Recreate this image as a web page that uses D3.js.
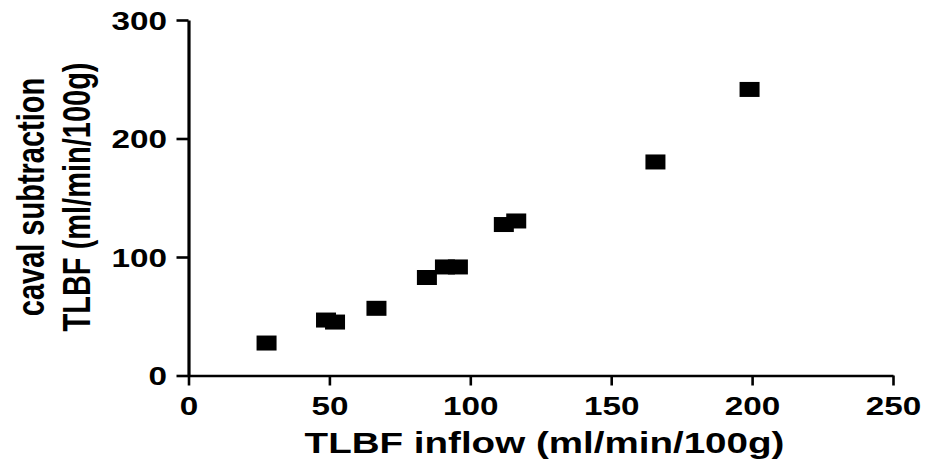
<!DOCTYPE html>
<html>
<head>
<meta charset="utf-8">
<script src="https://cdn.jsdelivr.net/npm/d3@7"></script>
<style>
  html, body { margin: 0; padding: 0; background: #fff; }
  svg { display: block; }
  text { font-family: "Liberation Sans", Arial, Helvetica, sans-serif; font-weight: bold; fill: #000; }
</style>
</head>
<body>
<svg id="chart" width="933" height="465"></svg>
<script>
// ---- data ----
const inflow = [27.7, 48.8, 52.0, 66.7, 84.6, 91.0, 95.6, 111.9, 116.3, 165.7, 199.1];
const cavalSubtraction = [27.4, 46.8, 45.1, 56.7, 82.7, 91.6, 91.6, 127.4, 130.4, 180.2, 241.4];
const xTicks = [0, 50, 100, 150, 200, 250];
const yTicks = [0, 100, 200, 300];
const xTitle = "TLBF inflow (ml/min/100g)";
const yTitleLines = ["caval subtraction", "TLBF (ml/min/100g)"];

// ---- layout ----
const W = 933, H = 465;
const x0 = 188.5, x1 = 893, yTop = 20, yBot = 375.5;
const sx = 1.33; // horizontal stretch of the original image

const svg = d3.select("#chart");
const x = d3.scaleLinear().domain([0, 250]).range([x0, x1]);
const y = d3.scaleLinear().domain([0, 300]).range([yBot, yTop]);

// x axis
const gx = svg.append("g").attr("transform", `translate(0,${yBot})`)
  .call(d3.axisBottom(x).tickValues(xTicks).tickSize(10).tickSizeOuter(0).tickFormat(d3.format("d")));
gx.select(".domain").attr("stroke", "#000").attr("stroke-width", 2.6);
gx.selectAll(".tick line").attr("stroke", "#000").attr("stroke-width", 2.6);
gx.selectAll(".tick text")
  .attr("y", null).attr("dy", null)
  .attr("text-anchor", "middle")
  .attr("font-size", 25)
  .attr("transform", `translate(0,${415 - yBot}) scale(${sx},1)`);

// y axis
const gy = svg.append("g").attr("transform", `translate(${x0},0)`)
  .call(d3.axisLeft(y).tickValues(yTicks).tickSize(12).tickSizeOuter(0).tickFormat(d3.format("d")));
gy.select(".domain").attr("stroke", "#000").attr("stroke-width", 3.2);
gy.selectAll(".tick line").attr("stroke", "#000").attr("stroke-width", 2.6);
gy.selectAll(".tick text")
  .attr("x", null).attr("dy", "0.36em")
  .attr("text-anchor", "end")
  .attr("font-size", 25)
  .attr("transform", `translate(${167 - x0},0) scale(${sx},1)`);

svg.selectAll("g.tick text").attr("fill", "#000");
svg.selectAll("g").attr("font-family", null);

// markers
const mw = 20, mh = 15;
svg.append("g").selectAll("rect")
  .data(inflow.map((v, i) => [v, cavalSubtraction[i]]))
  .join("rect")
  .attr("x", d => x(d[0]) - mw / 2)
  .attr("y", d => y(d[1]) - mh / 2)
  .attr("width", mw)
  .attr("height", mh)
  .attr("fill", "#000");

// x title
svg.append("text")
  .attr("transform", `translate(544.5,453) scale(${sx},1)`)
  .attr("text-anchor", "middle")
  .attr("font-size", 29)
  .text(xTitle);

// y title (two lines)
const yt = svg.append("g")
  .attr("transform", `translate(0,197) scale(${sx},1) rotate(-90)`);
yt.selectAll("text")
  .data(yTitleLines)
  .join("text")
  .attr("text-anchor", "middle")
  .attr("x", 0)
  .attr("y", (d, i) => (i === 0 ? 44 : 90) / sx)
  .attr("font-size", 29)
  .text(d => d);
</script>
</body>
</html>
